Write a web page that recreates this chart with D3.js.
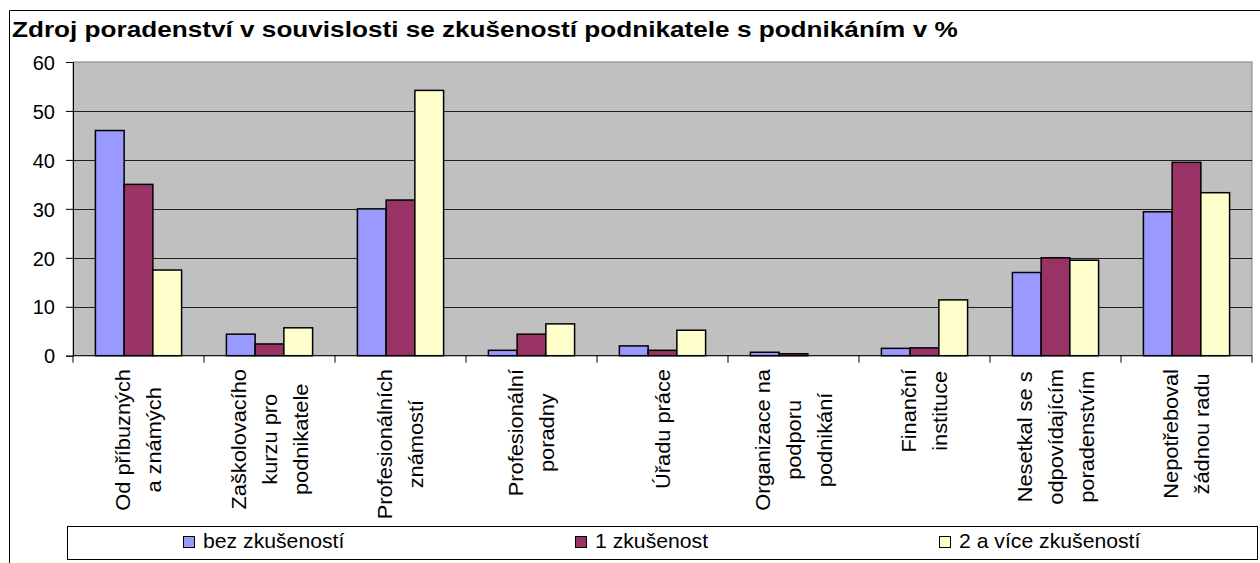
<!DOCTYPE html>
<html>
<head>
<meta charset="utf-8">
<script src="https://cdn.jsdelivr.net/npm/d3@7"></script>
<style>
  body { margin: 0; background: #fff; }
  text { font-family: "Liberation Sans", Arial, sans-serif; fill: #000; }
</style>
</head>
<body>
<script>
var categories = [
  ["Od příbuzných", "a známých"],
  ["Zaškolovacího", "kurzu pro", "podnikatele"],
  ["Profesionálních", "známostí"],
  ["Profesionální", "poradny"],
  ["Úřadu práce"],
  ["Organizace na", "podporu", "podnikání"],
  ["Finanční", "instituce"],
  ["Nesetkal se s", "odpovídajícím", "poradenstvím"],
  ["Nepotřeboval", "žádnou radu"]
];
var seriesNames = ["bez zkušeností", "1 zkušenost", "2 a více zkušeností"];
var bezZkusenosti = [46, 4.4, 30, 1.1, 2.0, 0.7, 1.5, 17, 29.4];
var jednaZkusenost = [35, 2.4, 31.8, 4.4, 1.1, 0.4, 1.6, 20, 39.5];
var viceZkusenosti = [17.5, 5.7, 54.2, 6.5, 5.2, 0, 11.4, 19.5, 33.3];
var yTicks = [0, 10, 20, 30, 40, 50, 60];
var colors = ["#9999FF", "#993366", "#FFFFCC"];
var title = "Zdroj poradenství v souvislosti se zkušeností podnikatele s podnikáním v %";

var W = 1260, H = 563;
var plot = {left: 73, right: 1252, top: 62, bottom: 355.7};
var fs = 20;

var svg = d3.select("body").append("svg")
    .attr("width", W)
    .attr("height", H);

// outer chart frame (only left and top visible)
svg.append("path")
    .attr("d", "M9.5,563 V10.5 H1260")
    .attr("fill", "none")
    .attr("stroke", "#000")
    .attr("stroke-width", 1);

// title
var t = svg.append("text")
    .attr("font-size", 22)
    .attr("font-weight", "bold")
    .text(title);
var tw = t.node().getComputedTextLength();
t.attr("transform", "translate(12,37) scale(" + (946 / tw) + ",1)");

var x = d3.scaleBand()
    .domain(d3.range(categories.length))
    .range([plot.left, plot.right]);

var xs = d3.scaleBand()
    .domain(d3.range(seriesNames.length))
    .range([0, x.bandwidth()])
    .paddingOuter(0.78);

var y = d3.scaleLinear()
    .domain([0, 60])
    .range([plot.bottom, plot.top]);

// plot background
svg.append("rect")
    .attr("x", plot.left)
    .attr("y", plot.top)
    .attr("width", plot.right - plot.left)
    .attr("height", plot.bottom - plot.top)
    .attr("fill", "#C0C0C0")
    .attr("stroke", "#808080")
    .attr("stroke-width", 1);

// gridlines
svg.append("g")
  .selectAll("line")
    .data(yTicks.filter(function(d) { return d > 0 && d < 60; }))
  .enter().append("line")
    .attr("x1", plot.left)
    .attr("x2", plot.right)
    .attr("y1", function(d) { return Math.round(y(d)) + 0.5; })
    .attr("y2", function(d) { return Math.round(y(d)) + 0.5; })
    .attr("stroke", "#202020")
    .attr("stroke-width", 1);

// bars
var series = [bezZkusenosti, jednaZkusenost, viceZkusenosti];
series.forEach(function(vals, s) {
  svg.append("g")
    .selectAll("rect")
      .data(vals)
    .enter().append("rect")
      .attr("x", function(d, i) { return x(i) + xs(s); })
      .attr("y", function(d) { return y(d); })
      .attr("width", xs.bandwidth())
      .attr("height", function(d) { return y(0) - y(d); })
      .attr("display", function(d) { return d > 0 ? null : "none"; })
      .attr("fill", colors[s])
      .attr("stroke", "#000")
      .attr("stroke-width", 1.5);
});

// y axis
var yAxis = svg.append("g")
    .attr("transform", "translate(" + plot.left + ",0)")
    .call(d3.axisLeft(y).tickValues(yTicks).tickSize(7).tickPadding(0).tickFormat(d3.format("d")));
yAxis.select(".domain").attr("stroke", "#000");
yAxis.selectAll(".tick line").attr("stroke", "#000");
yAxis.selectAll(".tick text")
    .attr("font-size", fs)
    .attr("font-family", "Liberation Sans, Arial, sans-serif")
    .attr("x", 0)
    .attr("dy", "0.36em")
    .attr("transform", "translate(-18,0)");

// x axis line and ticks at category boundaries
svg.append("line")
    .attr("x1", plot.left).attr("x2", plot.right)
    .attr("y1", plot.bottom).attr("y2", plot.bottom)
    .attr("stroke", "#000");
svg.append("g")
  .selectAll("line")
    .data(d3.range(categories.length + 1))
  .enter().append("line")
    .attr("x1", function(d) { return plot.left + d * x.step(); })
    .attr("x2", function(d) { return plot.left + d * x.step(); })
    .attr("y1", plot.bottom)
    .attr("y2", plot.bottom + 7)
    .attr("stroke", "#000");

// category labels, rotated, lines centred in a block anchored at the top
var lineGap = 31, lsx = 1.09;
categories.forEach(function(lines, i) {
  var g = svg.append("g");
  var cx = x(i) + x.bandwidth() / 2;
  var texts = lines.map(function(l) {
    return g.append("text").attr("font-size", fs).attr("text-anchor", "middle")
        .attr("dominant-baseline", "central").text(l);
  });
  var maxW = d3.max(texts, function(tt) { return tt.node().getComputedTextLength(); }) * lsx;
  var cy = 369 + maxW / 2;
  texts.forEach(function(tt, k) {
    var lx = cx + (k - (lines.length - 1) / 2) * lineGap;
    tt.attr("transform", "translate(" + lx + "," + cy + ") rotate(-90) scale(" + lsx + ",1)");
  });
});

// legend
var legend = svg.append("g");
legend.append("rect")
    .attr("x", 67.5).attr("y", 526.5)
    .attr("width", 1190).attr("height", 33)
    .attr("fill", "#fff")
    .attr("stroke", "#000");
var legendX = [183, 575, 939];
seriesNames.forEach(function(name, s) {
  legend.append("rect")
      .attr("x", legendX[s] + 0.5).attr("y", 536.5)
      .attr("width", 11).attr("height", 11)
      .attr("fill", colors[s])
      .attr("stroke", "#000");
  legend.append("text")
      .attr("font-size", fs)
      .attr("transform", "translate(" + (legendX[s] + 20) + ",548) scale(1.06,1)")
      .text(name);
});
</script>
</body>
</html>
